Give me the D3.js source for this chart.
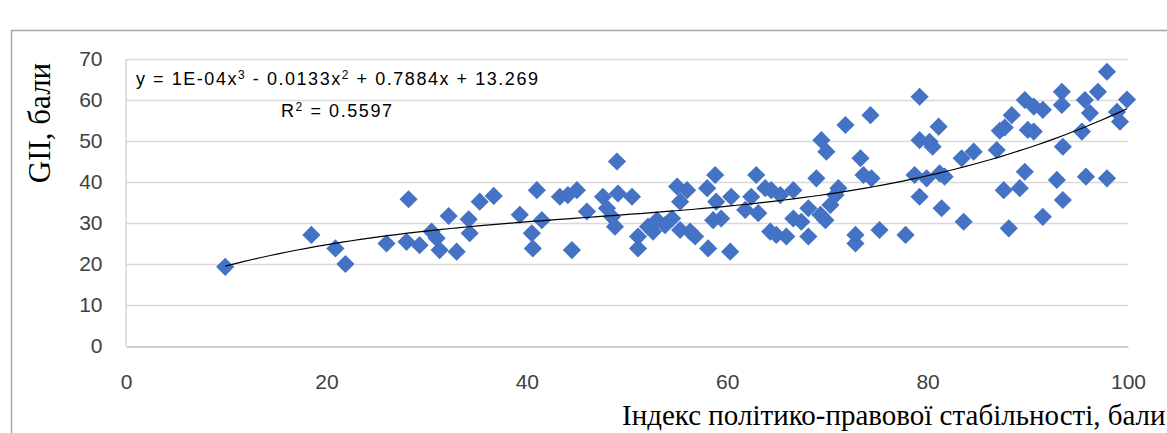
<!DOCTYPE html>
<html>
<head>
<meta charset="utf-8">
<script src="https://cdn.jsdelivr.net/npm/d3@7"></script>
<style>
  html, body { margin: 0; padding: 0; background: #fff; }
  svg { display: block; }
</style>
</head>
<body>
<svg id="chart" width="1167" height="433"></svg>
<script>
// ---- data ----
const stabilityIndex = [
  9.9, 18.5, 20.9, 21.9, 26.0, 28.2, 28.0, 29.3, 30.5, 31.0,
  31.3, 32.2, 33.0, 34.2, 34.3, 35.3, 36.7, 39.3, 41.0, 41.5,
  40.5, 40.6, 43.3, 44.1, 45.0, 44.5, 46.0, 47.6, 48.0, 48.5,
  48.8, 49.0, 49.1, 50.5, 51.1, 51.1, 52.1, 52.6, 53.0, 53.8,
  54.5, 55.0, 55.3, 56.0, 55.3, 56.3, 56.8, 58.0, 58.8, 58.9,
  59.4, 58.6, 58.1, 60.4, 60.3, 61.8, 62.4, 62.9, 63.1, 63.8,
  64.4, 64.3, 65.3, 64.9, 65.9, 66.6, 66.6, 67.4, 68.1, 68.1,
  68.9, 69.3, 69.4, 69.9, 69.8, 70.3, 70.8, 71.1, 71.8, 73.3,
  73.6, 74.4, 74.3, 72.8, 72.8, 75.2, 77.8, 79.2, 79.2, 78.7,
  79.2, 79.9, 80.2, 80.5, 81.1, 81.2, 81.4, 81.7, 83.4, 84.6,
  83.6, 86.9, 87.7, 88.4, 87.6, 88.1, 87.2, 89.7, 90.6, 91.5,
  90.0, 90.6, 89.7, 89.2, 91.5, 93.4, 93.4, 93.5, 92.9, 93.5,
  95.4, 95.7, 96.2, 95.8, 97.0, 97.9, 97.9, 98.9, 99.2, 99.9
];
const giValues = [
  19.3, 27.1, 23.8, 20.0, 25.0, 35.8, 25.4, 24.6, 27.9, 26.3,
  23.4, 31.7, 23.0, 30.9, 27.5, 35.2, 36.6, 32.0, 38.0, 30.7,
  27.5, 23.8, 36.4, 36.8, 38.0, 23.4, 32.8, 36.4, 33.6, 31.5,
  29.1, 45.0, 37.2, 36.4, 26.7, 23.8, 29.1, 27.9, 30.7, 29.5,
  31.1, 38.9, 35.2, 38.0, 28.3, 27.9, 26.7, 38.5, 41.7, 35.2,
  31.1, 30.7, 23.8, 36.4, 23.0, 33.2, 36.4, 41.7, 32.4, 38.5,
  38.0, 27.9, 36.8, 27.1, 26.7, 38.0, 31.1, 30.3, 26.7, 33.6,
  40.9, 32.0, 50.2, 47.4, 30.7, 34.4, 36.8, 38.5, 53.9, 45.8,
  41.7, 40.9, 56.3, 27.1, 25.0, 28.3, 27.1, 60.8, 36.4, 41.7,
  50.2, 40.9, 49.8, 48.6, 53.5, 42.1, 33.6, 41.3, 45.8, 47.4,
  30.3, 47.8, 53.3, 56.3, 38.0, 28.7, 52.5, 60.0, 58.4, 57.6,
  52.7, 52.3, 42.5, 38.5, 31.5, 62.0, 58.8, 48.6, 40.5, 35.6,
  52.3, 60.0, 56.8, 41.3, 62.0, 66.9, 40.9, 57.1, 54.7, 60.1
];
const xTicks = [0, 20, 40, 60, 80, 100];
const yTicks = [0, 10, 20, 30, 40, 50, 60, 70];
const xAxisTitle = "Індекс політико-правової стабільності, бали";
const yAxisTitle = "GII, бали";
// equation pieces: [text, isSuperscript]
const equationParts = [["y = 1E-04x", false], ["3", true], [" - 0.0133x", false], ["2", true], [" + 0.7884x + 13.269", false]];
const r2Parts = [["R", false], ["2", true], [" = 0.5597", false]];

// ---- layout ----
const svg = d3.select("#chart");
const plot = { left: 126, right: 1128, top: 59, bottom: 346 };
const x = d3.scaleLinear().domain([0, 100]).range([plot.left, plot.right]);
const y = d3.scaleLinear().domain([0, 70]).range([plot.bottom, plot.top]);

// chart frame
svg.append("rect")
  .attr("x", 11.5).attr("y", 30.5).attr("width", 1300).attr("height", 600)
  .attr("fill", "none").attr("stroke", "#a6a6a6").attr("stroke-width", 1.5);

// gridlines
svg.append("g").selectAll("line").data(yTicks.filter(d => d > 0)).join("line")
  .attr("x1", plot.left).attr("x2", plot.right)
  .attr("y1", d => Math.round(y(d)) + 0.5).attr("y2", d => Math.round(y(d)) + 0.5)
  .attr("stroke", "#d9d9d9").attr("stroke-width", 1.3);

// axes
const xAxis = svg.append("g")
  .attr("transform", `translate(0,${Math.round(y(0)) + 0.5})`)
  .call(d3.axisBottom(x).tickValues(xTicks).tickSize(0).tickPadding(28).tickFormat(d3.format("d")));
xAxis.select(".domain").attr("stroke", "#bfbfbf").attr("stroke-width", 1.5);
xAxis.selectAll("text")
  .attr("font-family", "'Liberation Sans', Arial, sans-serif")
  .attr("font-size", 21).attr("fill", "#404040");

const yAxis = svg.append("g")
  .attr("transform", `translate(${plot.left - 0.5},0)`)
  .call(d3.axisLeft(y).tickValues(yTicks).tickSize(0).tickPadding(23).tickFormat(d3.format("d")));
yAxis.select(".domain").attr("stroke", "#d0d0d0").attr("stroke-width", 1.3);
yAxis.selectAll("text")
  .attr("font-family", "'Liberation Sans', Arial, sans-serif")
  .attr("font-size", 21).attr("fill", "#404040");

// axis titles
svg.append("text")
  .attr("x", 622).attr("y", 425)
  .attr("font-family", "'Liberation Serif', 'Times New Roman', serif")
  .attr("font-size", 29).attr("fill", "#000")
  .text(xAxisTitle);

svg.append("text")
  .attr("transform", "translate(50,123) rotate(-90)")
  .attr("text-anchor", "middle")
  .attr("font-family", "'Liberation Serif', 'Times New Roman', serif")
  .attr("font-size", 31).attr("fill", "#000")
  .text(yAxisTitle);

// points
const points = stabilityIndex.map((v, i) => ({ x: v, y: giValues[i] }));
const diamond = d3.symbol().type(d3.symbolSquare).size(165);
svg.append("g").selectAll("path").data(points).join("path")
  .attr("d", diamond)
  .attr("transform", d => `translate(${x(d.x)},${y(d.y)}) rotate(45)`)
  .attr("fill", "#4472C4");

// cubic least-squares trendline from the points
function polyFit(xs, ys, deg) {
  const n = deg + 1;
  const A = Array.from({ length: n }, () => new Array(n + 1).fill(0));
  xs.forEach((xv, k) => {
    for (let i = 0; i < n; i++) {
      for (let j = 0; j < n; j++) A[i][j] += Math.pow(xv, i + j);
      A[i][n] += ys[k] * Math.pow(xv, i);
    }
  });
  for (let c = 0; c < n; c++) {
    let p = c;
    for (let r = c + 1; r < n; r++) if (Math.abs(A[r][c]) > Math.abs(A[p][c])) p = r;
    [A[c], A[p]] = [A[p], A[c]];
    for (let r = 0; r < n; r++) {
      if (r === c) continue;
      const f = A[r][c] / A[c][c];
      for (let k = c; k <= n; k++) A[r][k] -= f * A[c][k];
    }
  }
  return A.map((row, i) => row[n] / row[i]);
}
const coef = polyFit(stabilityIndex, giValues, 3);
const xmin = d3.min(stabilityIndex), xmax = d3.max(stabilityIndex);
const trendX = d3.range(0, 101).map(i => xmin + (xmax - xmin) * i / 100);
const line = d3.line()
  .x(d => x(d))
  .y(d => y(coef[0] + coef[1] * d + coef[2] * d * d + coef[3] * d * d * d));
svg.append("path").datum(trendX)
  .attr("d", line).attr("fill", "none")
  .attr("stroke", "#000").attr("stroke-width", 1.2);

// equation labels
function richText(parts, px, py, len) {
  const t = svg.append("text")
    .attr("x", px).attr("y", py)
    .attr("font-family", "'Liberation Sans', Arial, sans-serif")
    .attr("font-size", 18).attr("fill", "#000")
    .attr("textLength", len).attr("lengthAdjust", "spacing");
  parts.forEach(([s, sup]) => {
    const ts = t.append("tspan").text(s);
    if (sup) ts.attr("font-size", 12).attr("baseline-shift", "6");
  });
}
richText(equationParts, 136, 85, 402);
richText(r2Parts, 281, 117, 111);
</script>
</body>
</html>
